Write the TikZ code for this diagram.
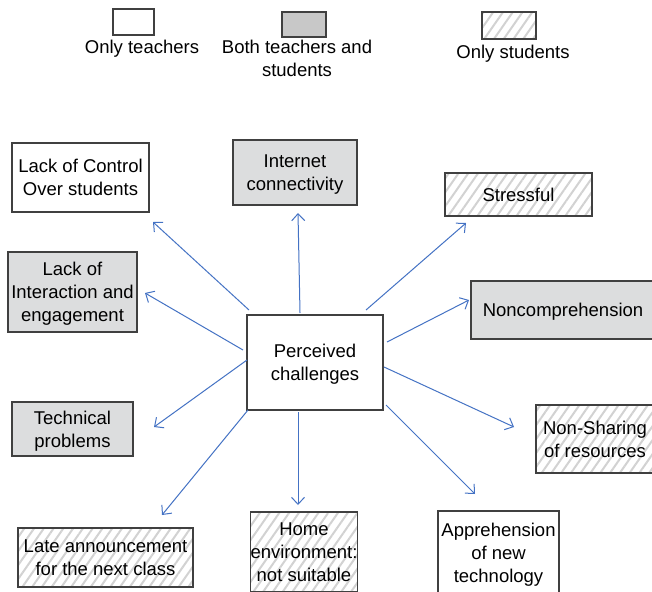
\documentclass[tikz,border=0pt]{standalone}
\usepackage{fontspec}
\setmainfont{Liberation Sans}
\usetikzlibrary{arrows.meta,patterns.meta}
\definecolor{arrblue}{HTML}{4472C4}
\definecolor{boxgray}{HTML}{DCDDDE}
\definecolor{leggray}{HTML}{C8C8C8}
\definecolor{edgegray}{HTML}{404040}
\definecolor{hatchgray}{HTML}{D2D2D2}
\begin{document}
\begin{tikzpicture}[x=1pt,y=-1pt,
  txt/.style={align=center, inner sep=0pt, text depth=0pt, font=\fontsize{18.5}{23}\selectfont},
  box/.style={txt, draw=edgegray, line width=1.3pt},
  tbox/.style={box, fill=white},
  gbox/.style={box, fill=boxgray},
  hbox/.style={box, preaction={fill=white}, pattern={Lines[angle=55,distance=8pt,line width=2pt]}, pattern color=hatchgray},
  arr/.style={draw=arrblue, line width=1pt, -{Straight Barb[length=7pt,width=13pt,line width=1pt]}}
]
\useasboundingbox (0,0) rectangle (652,591);
\clip (0,0) rectangle (652,591);
\fill[white] (0,0) rectangle (652,591);

% legend
\node[box, fill=white, minimum width=41pt, minimum height=26pt] (leg1) at (133.5,22) {};
\node[txt] (leg1t) at (142,47) {Only teachers};
\node[box, fill=leggray, minimum width=44pt, minimum height=25pt] (leg2) at (304,24.5) {};
\node[txt] (leg2t) at (297,58.5) {Both teachers and\\students};
\node[hbox, minimum width=54pt, minimum height=27pt] (leg3) at (509,25.5) {};
\node[txt] (leg3t) at (513,52) {Only students};

% boxes
\node[tbox, minimum width=137pt, minimum height=69pt] (ctrl) at (80.5,177.5) {Lack of Control\\Over students};
\node[gbox, minimum width=124pt, minimum height=65pt] (inet) at (295,172.5) {Internet\\connectivity};
\node[gbox, minimum width=129pt, minimum height=80pt] (inter) at (72.5,292) {Lack of\\Interaction and\\engagement};
\node[hbox, minimum width=147pt, minimum height=43pt] (stress) at (518.5,194.5) {Stressful};
\node[gbox, minimum width=184pt, minimum height=58pt] (noncomp) at (563,310) {Noncomprehension};
\node[tbox, minimum width=136pt, minimum height=95pt] (pc) at (315,362.5) {Perceived\\challenges};
\node[gbox, minimum width=121pt, minimum height=54pt] (tech) at (72.5,429) {Technical\\problems};
\node[hbox, minimum width=175pt, minimum height=59pt] (late) at (105.5,557.5) {Late announcement\\for the next class};
\node[hbox, minimum width=102pt, minimum height=80pt] (home) at (304,552) {Home\\environment:\\not suitable};
\node[hbox, minimum width=118pt, minimum height=68pt] (nonsh) at (595,439) {Non-Sharing\\of resources};
\node[tbox, minimum width=121pt, minimum height=84pt] (appr) at (498.5,553) {Apprehension\\of new\\technology};

% arrow end points
\coordinate (s1) at (249,310);  \coordinate (e1) at (153,222);
\coordinate (s2) at (300,313);  \coordinate (e2) at (298,213);
\coordinate (s3) at (243,350);  \coordinate (e3) at (145,293);
\coordinate (s4) at (366,310);  \coordinate (e4) at (466,223);
\coordinate (s5) at (387,342);  \coordinate (e5) at (469,300);
\coordinate (s6) at (247,360);  \coordinate (e6) at (154,427);
\coordinate (s7) at (248,410);  \coordinate (e7) at (162,515);
\coordinate (s8) at (298,412);  \coordinate (e8) at (298,505);
\coordinate (s9) at (384,367);  \coordinate (e9) at (514,427);
\coordinate (s10) at (386,405); \coordinate (e10) at (475,494);

\draw[arr] (s1) -- (e1);
\draw[arr] (s2) -- (e2);
\draw[arr] (s3) -- (e3);
\draw[arr] (s4) -- (e4);
\draw[arr] (s5) -- (e5);
\draw[arr] (s6) -- (e6);
\draw[arr] (s7) -- (e7);
\draw[arr] (s8) -- (e8);
\draw[arr] (s9) -- (e9);
\draw[arr] (s10) -- (e10);
\end{tikzpicture}
\end{document}
